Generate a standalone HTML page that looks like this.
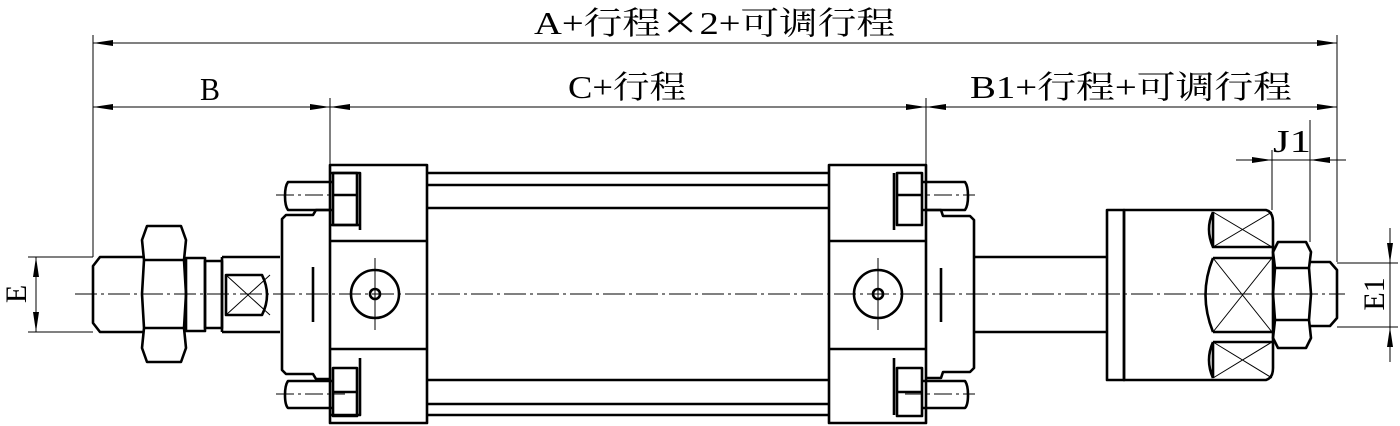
<!DOCTYPE html>
<html><head><style>html,body{margin:0;padding:0;background:#fff}svg{display:block}
text{font-family:"Liberation Serif","Noto Serif CJK SC","Noto Sans CJK SC",serif;font-size:32px;fill:#000}</style></head>
<body>
<svg width="1400" height="426" viewBox="0 0 1400 426" xmlns="http://www.w3.org/2000/svg">
<defs>
<marker id="a" viewBox="0 0 20 6" refX="20" refY="3" markerWidth="20" markerHeight="6" orient="auto-start-reverse" markerUnits="userSpaceOnUse"><path d="M0,0 L20,3 L0,6z" fill="#000"/></marker>
</defs>
<g stroke="#000" stroke-width="1" fill="none">
<line x1="93" y1="35" x2="93" y2="257"/>
<line x1="1337" y1="35" x2="1337" y2="262"/>
<line x1="330" y1="98" x2="330" y2="165"/>
<line x1="926" y1="98" x2="926" y2="165"/>
<line x1="1272" y1="150" x2="1272" y2="210"/>
<line x1="1310" y1="120" x2="1310" y2="242"/>
<line x1="93" y1="43" x2="1337" y2="43" marker-start="url(#a)" marker-end="url(#a)"/>
<line x1="93" y1="107" x2="330" y2="107" marker-start="url(#a)" marker-end="url(#a)"/>
<line x1="330" y1="107" x2="926" y2="107" marker-start="url(#a)" marker-end="url(#a)"/>
<line x1="926" y1="107" x2="1337" y2="107" marker-start="url(#a)" marker-end="url(#a)"/>
<line x1="1236" y1="160" x2="1272" y2="160" marker-end="url(#a)"/>
<line x1="1346" y1="160" x2="1310" y2="160" marker-end="url(#a)"/>
<line x1="1272" y1="160" x2="1310" y2="160"/>
<line x1="28" y1="257" x2="93" y2="257"/>
<line x1="28" y1="332" x2="93" y2="332"/>
<line x1="36" y1="257" x2="36" y2="332" marker-start="url(#a)" marker-end="url(#a)"/>
<line x1="1337" y1="263" x2="1398" y2="263"/>
<line x1="1337" y1="327" x2="1398" y2="327"/>
<line x1="1390" y1="228" x2="1390" y2="263" marker-end="url(#a)"/>
<line x1="1390" y1="362" x2="1390" y2="327" marker-end="url(#a)"/>
<line x1="1390" y1="263" x2="1390" y2="327"/>
<line x1="75" y1="294" x2="1345" y2="294" stroke-dasharray="22,4,3,4"/>
<line x1="276" y1="195" x2="345" y2="195" stroke-dasharray="18,4,3,4"/>
<line x1="276" y1="394" x2="345" y2="394" stroke-dasharray="18,4,3,4"/>
<line x1="905" y1="195" x2="975" y2="195" stroke-dasharray="18,4,3,4"/>
<line x1="905" y1="394" x2="975" y2="394" stroke-dasharray="18,4,3,4"/>
<line x1="375" y1="258" x2="375" y2="330"/>
<line x1="878" y1="258" x2="878" y2="330"/>
<path d="M226,275 L270,315 M226,315 L270,275"/>
<path d="M1213,212 L1272,247 M1213,247 L1272,212 M1213,258 L1272,332 M1213,332 L1272,258 M1213,342 L1272,378 M1213,378 L1272,342"/>
</g>
<g stroke="#000" stroke-width="2.6" fill="none" stroke-linejoin="round">
<path d="M143,257 L100,257 L93,266 L93,323 L100,332 L143,332"/>
<path d="M147,226 L181,226 L186,240 L184,260 L186,294 L184,328 L186,348 L181,362 L147,362 L142,348 L144,328 L142,294 L144,260 L142,240 Z"/>
<line x1="144" y1="260" x2="184" y2="260"/><line x1="144" y1="328" x2="184" y2="328"/>
<rect x="186" y="258" width="19" height="73"/>
<rect x="205" y="261" width="17" height="67"/>
<path d="M222,257 L280,257 M222,332 L280,332 M222,257 L222,332"/>
<path d="M226,275 L262,275 Q272,295 262,315 L226,315 Z"/>
<path d="M330,210 L316,210 L313,215 L286,215 L282,219 L282,370 L286,374 L313,374 L316,379 L330,379"/>
<line x1="313" y1="267" x2="313" y2="322"/>
<rect x="330" y="165" width="97" height="258"/>
<line x1="330" y1="241" x2="427" y2="241"/><line x1="330" y1="349" x2="427" y2="349"/>
<path d="M330,173 L360,173 L360,230 M330,225 L360,225 M360,173 L360,225"/>
<rect x="333" y="173" width="24" height="52"/>
<line x1="333" y1="195" x2="357" y2="195"/>
<path d="M330,415 L360,415 L360,358"/>
<rect x="333" y="368" width="24" height="48"/>
<line x1="333" y1="392" x2="357" y2="392"/>
<path d="M333,182 L288,182 Q285,186 285,196 Q285,206 288,210 L333,210"/>
<path d="M333,381 L288,381 Q285,385 285,395 Q285,405 288,408 L333,408"/>
<circle cx="375" cy="294" r="24"/>
<circle cx="375" cy="294" r="5"/>
<line x1="427" y1="173" x2="829" y2="173"/><line x1="427" y1="185" x2="829" y2="185"/>
<line x1="427" y1="208" x2="829" y2="208"/>
<line x1="427" y1="380" x2="829" y2="380"/>
<line x1="427" y1="404" x2="829" y2="404"/><line x1="427" y1="415" x2="829" y2="415"/>
<rect x="829" y="165" width="97" height="258"/>
<line x1="829" y1="241" x2="926" y2="241"/><line x1="829" y1="349" x2="926" y2="349"/>
<path d="M894,173 L894,230 M894,358 L894,415"/>
<rect x="897" y="173" width="25" height="52"/>
<line x1="897" y1="195" x2="922" y2="195"/>
<rect x="897" y="368" width="25" height="48"/>
<line x1="897" y1="392" x2="922" y2="392"/>
<path d="M922,182 L965,182 Q968,186 968,196 Q968,206 965,210 L922,210"/>
<path d="M922,381 L965,381 Q968,385 968,395 Q968,405 965,408 L922,408"/>
<circle cx="878" cy="294" r="24"/>
<circle cx="878" cy="294" r="5"/>
<path d="M926,210 L941,210 L943,216 L970,216 L974,220 L974,368 L970,372 L943,372 L941,378 L926,378"/>
<line x1="941" y1="268" x2="941" y2="322"/>
<line x1="974" y1="257" x2="1107" y2="257"/><line x1="974" y1="332" x2="1107" y2="332"/>
<rect x="1107" y="210" width="17" height="170"/>
<path d="M1124,210 L1266,210 Q1273,212 1273,222 L1273,368 Q1273,378 1266,380 L1124,380 Z"/>
<path d="M1213,212 Q1205,229 1213,247 M1213,212 L1213,247 L1272,247"/>
<path d="M1213,258 Q1198,295 1213,332 M1213,258 L1272,258 M1213,332 L1272,332"/>
<path d="M1213,342 Q1205,360 1213,378 M1213,342 L1272,342 M1213,342 L1213,378"/>
<path d="M1278,242 L1306,242 L1311,252 L1309,268 L1311,294 L1309,320 L1311,338 L1306,348 L1278,348 L1273,338 L1275,320 L1273,294 L1275,268 L1273,252 Z"/>
<line x1="1275" y1="268" x2="1309" y2="268"/><line x1="1275" y1="320" x2="1309" y2="320"/>
<path d="M1310,262 L1330,262 L1337,270 L1337,318 L1330,326 L1310,326"/>
</g>
<text x="534" y="34" textLength="361" lengthAdjust="spacingAndGlyphs">A+行程<tspan style="font-family:'Noto Sans CJK SC',sans-serif">×</tspan>2+可调行程</text>
<text x="200" y="100" textLength="20" lengthAdjust="spacingAndGlyphs">B</text>
<text x="568" y="98" textLength="118" lengthAdjust="spacingAndGlyphs">C+行程</text>
<text x="970" y="98" textLength="322" lengthAdjust="spacingAndGlyphs">B1+行程+可调行程</text>
<text x="1273" y="152" textLength="38" lengthAdjust="spacingAndGlyphs">J1</text>
<text transform="translate(26,294) rotate(-90)" text-anchor="middle" style="font-size:30px">E</text>
<text transform="translate(1384,294) rotate(-90)" text-anchor="middle" style="font-size:30px">E1</text>
</svg>
</body></html>
